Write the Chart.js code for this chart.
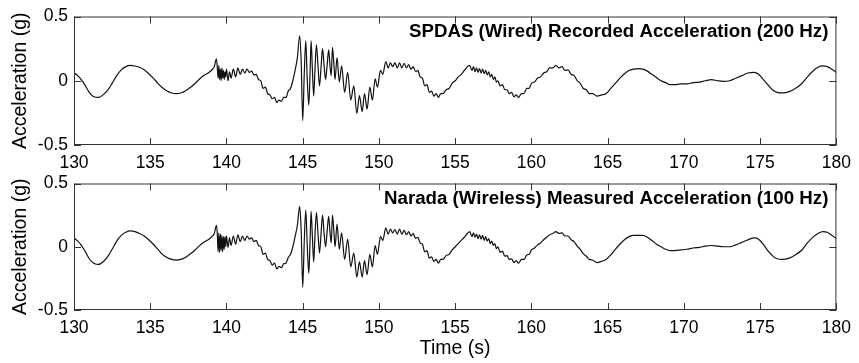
<!DOCTYPE html>
<html>
<head>
<meta charset="utf-8">
<script src="https://cdn.jsdelivr.net/npm/chart.js@4"></script>
<style>
  body { margin: 0; background: #fff; }
  .wrap { position: relative; width: 859px; height: 363px; }
  canvas { position: absolute; left: 0; }
  #top { top: 0; }
  #bottom { top: 167px; }
</style>
</head>
<body>
<div class="wrap">
  <canvas id="top" width="859" height="170"></canvas>
  <canvas id="bottom" width="859" height="196"></canvas>
</div>
<script>
const xTicks = [130, 135, 140, 145, 150, 155, 160, 165, 170, 175, 180];
const yTicks = [-0.5, 0, 0.5];

// SPDAS wired record
const timeWired = [
  130.0,130.2,130.4,130.7,131.0,131.3,131.6,131.9,132.2,132.5,132.8,133.1,133.4,133.7,134.0,134.3,134.6,134.9,
  135.2,135.5,135.8,136.1,136.4,136.7,137.0,137.3,137.6,137.9,138.2,138.5,138.8,139.0,139.2,139.34,
  139.4,139.45,139.5,139.55,139.6,139.65,139.7,139.75,139.8,139.85,139.9,139.95,140.0,140.1,140.2,140.3,
  140.45,140.6,140.75,140.9,141.05,141.2,141.35,141.5,141.65,141.8,141.95,142.1,142.25,142.4,142.55,142.7,
  142.85,143.0,143.15,143.3,143.45,143.6,143.75,143.9,144.05,144.2,144.35,144.5,144.65,144.8,144.9,145.0,
  145.1,145.2,145.3,145.4,145.48,145.55,145.63,145.72,145.8,145.9,146.0,146.1,146.2,146.3,146.4,146.5,
  146.6,146.7,146.8,146.87,146.95,147.05,147.12,147.25,147.4,147.55,147.75,147.95,148.15,148.35,148.55,
  148.72,148.9,149.05,149.22,149.4,149.57,149.75,149.9,150.1,150.25,150.45,150.6,150.75,150.9,151.05,
  151.2,151.35,151.5,151.65,151.8,151.95,152.1,152.25,152.4,152.55,152.7,152.85,153.0,153.15,153.3,153.45,
  153.6,153.75,153.9,154.05,154.2,154.4,154.6,154.8,155.0,155.2,155.4,155.6,155.8,155.95,156.1,156.2,
  156.3,156.4,156.5,156.6,156.7,156.8,156.9,157.0,157.1,157.2,157.3,157.4,157.5,157.6,157.7,157.8,157.95,
  158.1,158.25,158.4,158.55,158.7,158.85,159.0,159.15,159.35,159.5,159.7,159.85,160.0,160.2,160.4,160.6,
  160.8,161.0,161.2,161.4,161.6,161.8,162.0,162.2,162.4,162.6,162.8,163.0,163.2,163.4,163.6,163.8,164.0,
  164.3,164.6,164.9,165.2,165.5,165.8,166.1,166.4,166.7,167.0,167.3,167.6,167.9,168.2,168.5,168.8,169.1,
  169.4,169.8,170.2,170.6,171.0,171.4,171.8,172.2,172.6,173.0,173.4,173.8,174.2,174.6,174.9,175.2,175.5,
  175.8,176.1,176.5,176.9,177.3,177.7,178.1,178.5,178.8,179.1,179.4,179.7,180.0
];
const accelWired = [
  0.06,0.045,0.02,-0.03,-0.09,-0.125,-0.13,-0.11,-0.075,-0.02,0.04,0.085,0.11,0.12,0.115,0.105,0.085,0.055,
  0.02,-0.02,-0.055,-0.08,-0.095,-0.10,-0.095,-0.08,-0.055,-0.025,0.01,0.04,0.06,0.08,0.11,0.17,
  0.10,0.02,0.12,0.01,0.09,0.0,0.10,0.02,0.08,0.01,0.07,0.03,0.09,0.0,0.07,0.02,
  0.09,0.03,0.10,0.05,0.09,0.06,0.09,0.065,0.075,0.045,0.05,0.01,0.0,-0.06,-0.05,-0.10,
  -0.11,-0.14,-0.13,-0.17,-0.15,-0.16,-0.13,-0.13,-0.08,-0.06,0.0,0.08,0.18,0.35,0.15,-0.31,
  0.05,0.31,0.0,-0.19,0.05,0.31,0.10,-0.12,0.08,0.28,0.12,-0.04,0.10,0.25,0.12,0.01,
  0.12,0.24,0.10,0.04,0.26,0.12,0.01,0.18,-0.01,0.115,-0.09,0.065,-0.15,-0.04,-0.255,
  -0.115,-0.24,-0.10,-0.22,-0.05,-0.15,0.015,-0.05,0.08,0.05,0.15,0.10,0.14,0.11,0.14,
  0.10,0.14,0.10,0.135,0.10,0.125,0.09,0.11,0.07,0.08,0.03,0.02,-0.04,-0.03,-0.09,-0.08,
  -0.12,-0.10,-0.13,-0.10,-0.10,-0.07,-0.06,-0.02,0.0,0.03,0.05,0.08,0.11,0.12,0.08,0.11,
  0.07,0.10,0.065,0.095,0.06,0.09,0.055,0.08,0.045,0.07,0.03,0.05,0.01,0.03,-0.01,0.0,-0.04,
  -0.03,-0.07,-0.07,-0.10,-0.09,-0.125,-0.11,-0.13,-0.10,-0.10,-0.06,-0.06,-0.02,-0.01,0.02,0.03,
  0.06,0.07,0.10,0.10,0.12,0.10,0.11,0.08,0.085,0.05,0.04,0.0,-0.02,-0.06,-0.07,-0.10,-0.10,
  -0.12,-0.11,-0.10,-0.06,-0.02,0.02,0.055,0.08,0.09,0.095,0.09,0.075,0.05,0.025,0.0,-0.015,-0.03,
  -0.03,-0.025,-0.025,-0.015,-0.01,0.0,0.008,0.0,-0.005,0.0,0.02,0.04,0.06,0.065,0.05,0.01,-0.03,
  -0.07,-0.09,-0.095,-0.085,-0.06,-0.025,0.03,0.08,0.105,0.115,0.11,0.09,0.065
];

// Narada wireless record
const timeWireless = timeWired;
const accelWireless = [
  0.07,0.05,0.025,-0.03,-0.095,-0.13,-0.14,-0.12,-0.08,-0.02,0.045,0.09,0.115,0.125,0.12,0.105,0.085,0.055,
  0.02,-0.02,-0.06,-0.085,-0.10,-0.105,-0.10,-0.085,-0.06,-0.03,0.005,0.035,0.055,0.075,0.105,0.17,
  0.10,-0.04,0.11,-0.045,0.10,-0.03,0.09,-0.04,0.08,-0.02,0.08,0.0,0.085,-0.005,0.07,0.01,
  0.085,0.02,0.095,0.04,0.085,0.05,0.085,0.06,0.07,0.04,0.05,0.01,0.0,-0.06,-0.05,-0.10,
  -0.11,-0.145,-0.13,-0.175,-0.155,-0.165,-0.135,-0.13,-0.085,-0.06,0.0,0.08,0.17,0.32,0.12,-0.32,
  0.04,0.29,0.0,-0.21,0.04,0.28,0.09,-0.12,0.08,0.27,0.11,-0.05,0.10,0.25,0.11,0.0,
  0.12,0.24,0.10,0.03,0.25,0.11,0.0,0.18,-0.02,0.11,-0.10,0.06,-0.16,-0.05,-0.24,
  -0.12,-0.24,-0.11,-0.22,-0.06,-0.16,0.01,-0.06,0.08,0.05,0.15,0.10,0.14,0.11,0.135,
  0.10,0.14,0.10,0.13,0.095,0.12,0.085,0.105,0.065,0.075,0.03,0.02,-0.04,-0.03,-0.09,-0.08,
  -0.115,-0.10,-0.13,-0.10,-0.10,-0.07,-0.06,-0.025,0.0,0.025,0.05,0.075,0.105,0.12,0.08,0.11,
  0.075,0.10,0.065,0.095,0.06,0.09,0.05,0.08,0.045,0.065,0.025,0.045,0.01,0.025,-0.015,0.0,-0.045,
  -0.035,-0.075,-0.07,-0.10,-0.095,-0.125,-0.11,-0.13,-0.10,-0.10,-0.065,-0.06,-0.025,-0.01,0.015,0.03,
  0.055,0.075,0.095,0.105,0.12,0.105,0.11,0.085,0.085,0.055,0.04,0.005,-0.02,-0.055,-0.075,-0.10,-0.105,
  -0.125,-0.115,-0.10,-0.065,-0.02,0.02,0.055,0.08,0.09,0.09,0.09,0.075,0.05,0.02,0.0,-0.02,-0.03,
  -0.03,-0.025,-0.02,-0.01,-0.005,0.005,0.01,0.005,0.0,0.0,0.015,0.035,0.055,0.07,0.06,0.02,-0.03,
  -0.07,-0.095,-0.10,-0.09,-0.065,-0.03,0.03,0.08,0.105,0.12,0.115,0.09,0.065
];

const FONT = "'Liberation Sans', Arial, sans-serif";

// MATLAB-like boxed axes with inward ticks, plus the panel caption
const boxAxes = {
  id: 'boxAxes',
  afterDatasetsDraw(chart, args, opts) {
    const { ctx, chartArea: a, scales: { x, y } } = chart;
    ctx.save();
    ctx.strokeStyle = '#333';
    ctx.lineWidth = 1;
    ctx.strokeRect(a.left + 0.5, a.top + 0.5, a.right - a.left - 1, a.bottom - a.top - 1);
    ctx.beginPath();
    xTicks.forEach(v => {
      const px = Math.round(x.getPixelForValue(v)) + 0.5;
      ctx.moveTo(px, a.top); ctx.lineTo(px, a.top + 7);
      ctx.moveTo(px, a.bottom); ctx.lineTo(px, a.bottom - 7);
    });
    yTicks.forEach(v => {
      const py = Math.round(y.getPixelForValue(v)) + 0.5;
      ctx.moveTo(a.left, py); ctx.lineTo(a.left + 7, py);
      ctx.moveTo(a.right, py); ctx.lineTo(a.right - 7, py);
    });
    ctx.stroke();
    ctx.fillStyle = '#000';
    ctx.font = 'bold 18.7px ' + FONT;
    ctx.textAlign = 'right';
    ctx.textBaseline = 'middle';
    ctx.fillText(opts.text, a.right - 8, a.top + 15);
    ctx.restore();
  }
};

function makeChart(id, times, values, caption, xHeight, showTime) {
  const ctx = document.getElementById(id).getContext('2d');
  return new Chart(ctx, {
    type: 'line',
    data: {
      datasets: [{
        data: times.map((t, i) => ({ x: t, y: values[i] })),
        borderColor: '#111',
        borderWidth: 1.2,
        pointRadius: 0,
        cubicInterpolationMode: 'monotone'
      }]
    },
    options: {
      responsive: false,
      animation: false,
      layout: { padding: { top: 15, right: 18, left: 0, bottom: 0 } },
      plugins: { legend: { display: false }, tooltip: { enabled: false }, boxAxes: { text: caption } },
      scales: {
        x: {
          type: 'linear', min: 130, max: 180,
          afterBuildTicks: s => { s.ticks = xTicks.map(v => ({ value: v })); },
          afterFit: s => { s.height = xHeight; },
          grid: { display: false, drawTicks: false },
          border: { display: false },
          ticks: { color: '#000', padding: 8, maxRotation: 0, font: { family: FONT, size: 17.5 } },
          title: { display: showTime, text: 'Time (s)', color: '#000', padding: { top: 0, bottom: 3 }, font: { family: FONT, size: 19.5 } }
        },
        y: {
          min: -0.5, max: 0.5,
          afterBuildTicks: s => { s.ticks = yTicks.map(v => ({ value: v })); },
          afterFit: s => { s.width = 74; },
          grid: { display: false, drawTicks: false },
          border: { display: false },
          ticks: { color: '#000', padding: 6, font: { family: FONT, size: 17.5 } },
          title: { display: true, text: 'Acceleration (g)', color: '#000', padding: { top: 9, bottom: 0 }, font: { family: FONT, size: 19.5 } }
        }
      }
    },
    plugins: [boxAxes]
  });
}

makeChart('top', timeWired, accelWired, 'SPDAS (Wired) Recorded Acceleration (200 Hz)', 25, false);
makeChart('bottom', timeWireless, accelWireless, 'Narada (Wireless) Measured Acceleration (100 Hz)', 53, true);
</script>
</body>
</html>
